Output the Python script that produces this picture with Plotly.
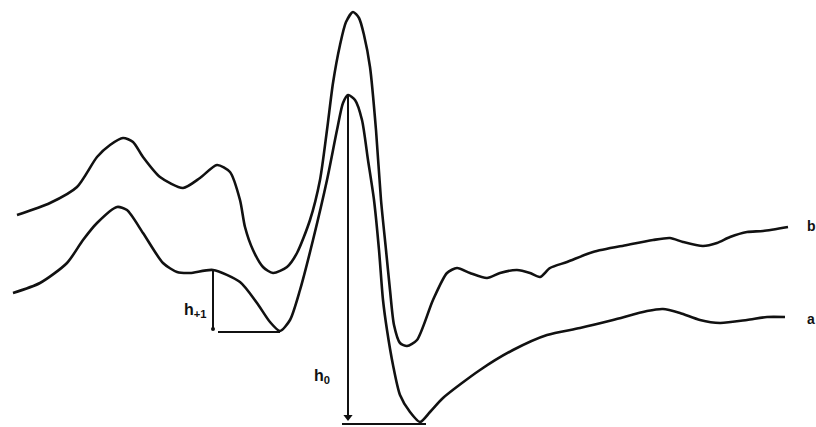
import plotly.graph_objects as go

# Curve b (upper trace), image-like units (y grows downward)
xb = [17, 50, 77, 97, 110, 123, 133, 143, 160, 183, 200, 217, 230, 240, 245, 253, 263, 273, 287, 297,
      310, 320, 327, 333, 340, 346, 353, 359, 364, 370, 376, 381, 386, 390, 394, 400, 407, 417,
      433, 447, 457, 470, 487, 500, 517, 530, 540, 550, 567, 593, 627, 653, 670, 683, 703, 717,
      730, 747, 763, 788]
yb = [215, 203, 187, 157, 145, 138, 142, 157, 177, 188, 178, 165, 172, 200, 227, 250, 267, 273, 267, 253,
      220, 180, 130, 83, 45, 22, 12, 18, 35, 67, 130, 200, 250, 290, 325, 343, 346, 340,
      300, 273, 268, 273, 278, 273, 270, 273, 277, 268, 262, 252, 245, 240, 238, 242, 246, 243,
      237, 232, 231, 227]

# Curve a (lower trace)
xa = [13, 40, 67, 83, 97, 117, 127, 143, 163, 177, 190, 213, 240, 257, 270, 280, 290,
      300, 313, 327, 337, 343, 348, 355, 362, 368, 374, 379, 383, 387, 393, 400, 410, 420,
      430, 443, 480, 513, 547, 580, 613, 647, 663, 680, 700, 720, 747, 767, 785]
ya = [293, 283, 263, 240, 223, 207, 210, 233, 263, 272, 273, 270, 282, 303, 322, 331, 320,
      290, 240, 180, 130, 103, 95, 100, 120, 160, 200, 250, 300, 330, 365, 395, 412, 422,
      412, 398, 370, 350, 335, 328, 320, 311, 309, 313, 320, 323, 320, 317, 317]

series_labels = ["a", "b"]

ink = "#111111"
fig = go.Figure()
line_style = dict(color=ink, width=2.6, shape="spline", smoothing=0.7)
fig.add_trace(go.Scatter(x=xb, y=yb, mode="lines", line=line_style, hoverinfo="skip"))
fig.add_trace(go.Scatter(x=xa, y=ya, mode="lines", line=line_style, hoverinfo="skip"))

# h+1 construction: vertical from local max down to level of minimum, horizontal to minimum
i_top1 = xa.index(213)
i_min1 = xa.index(280)
fig.add_trace(go.Scatter(x=[xa[i_top1], xa[i_top1]], y=[ya[i_top1], ya[i_min1] - 2], mode="lines",
                         line=dict(color=ink, width=2), hoverinfo="skip"))
fig.add_trace(go.Scatter(x=[xa[i_top1]], y=[ya[i_min1] - 2], mode="markers",
                         marker=dict(color=ink, size=4), hoverinfo="skip"))
fig.add_trace(go.Scatter(x=[xa[i_top1] + 5, xa[i_min1]], y=[ya[i_min1] + 1, ya[i_min1] + 1], mode="lines",
                         line=dict(color=ink, width=2), hoverinfo="skip"))

# h0 construction: arrow from main peak down to minimum level, horizontal to minimum
i_peak = xa.index(348)
i_min0 = xa.index(420)
fig.add_trace(go.Scatter(x=[xa[i_peak], xa[i_peak]], y=[ya[i_peak], ya[i_min0] - 6], mode="lines",
                         line=dict(color=ink, width=2), hoverinfo="skip"))
fig.add_trace(go.Scatter(x=[xa[i_peak]], y=[ya[i_min0] - 5], mode="markers",
                         marker=dict(color=ink, size=8, symbol="triangle-down"), hoverinfo="skip"))
fig.add_trace(go.Scatter(x=[xa[i_peak] - 6, xa[i_min0] + 6], y=[ya[i_min0] + 2, ya[i_min0] + 2], mode="lines",
                         line=dict(color=ink, width=2), hoverinfo="skip"))

font = dict(family="Liberation Sans, Arial, sans-serif", size=16, color=ink)
small = dict(family="Liberation Sans, Arial, sans-serif", size=14, color=ink)
fig.add_annotation(x=195, y=310, text="<b>h<sub>+1</sub></b>", showarrow=False, font=font, xref="x", yref="y")
fig.add_annotation(x=322, y=376, text="<b>h<sub>0</sub></b>", showarrow=False, font=font, xref="x", yref="y")
fig.add_annotation(x=811, y=yb[-1] - 1, text="<b>" + series_labels[1] + "</b>", showarrow=False,
                   font=small, xref="x", yref="y")
fig.add_annotation(x=811, y=ya[-1] + 2, text="<b>" + series_labels[0] + "</b>", showarrow=False,
                   font=small, xref="x", yref="y")

fig.update_layout(
    width=816, height=427, margin=dict(l=0, r=0, t=0, b=0),
    paper_bgcolor="white", plot_bgcolor="white", showlegend=False,
    xaxis=dict(range=[0, 816], visible=False, fixedrange=True),
    yaxis=dict(range=[427, 0], visible=False, fixedrange=True),
)
fig.write_html("out.html", config={"displayModeBar": False},
               post_script="document.body.style.margin='0px';document.body.style.overflow='hidden';")
